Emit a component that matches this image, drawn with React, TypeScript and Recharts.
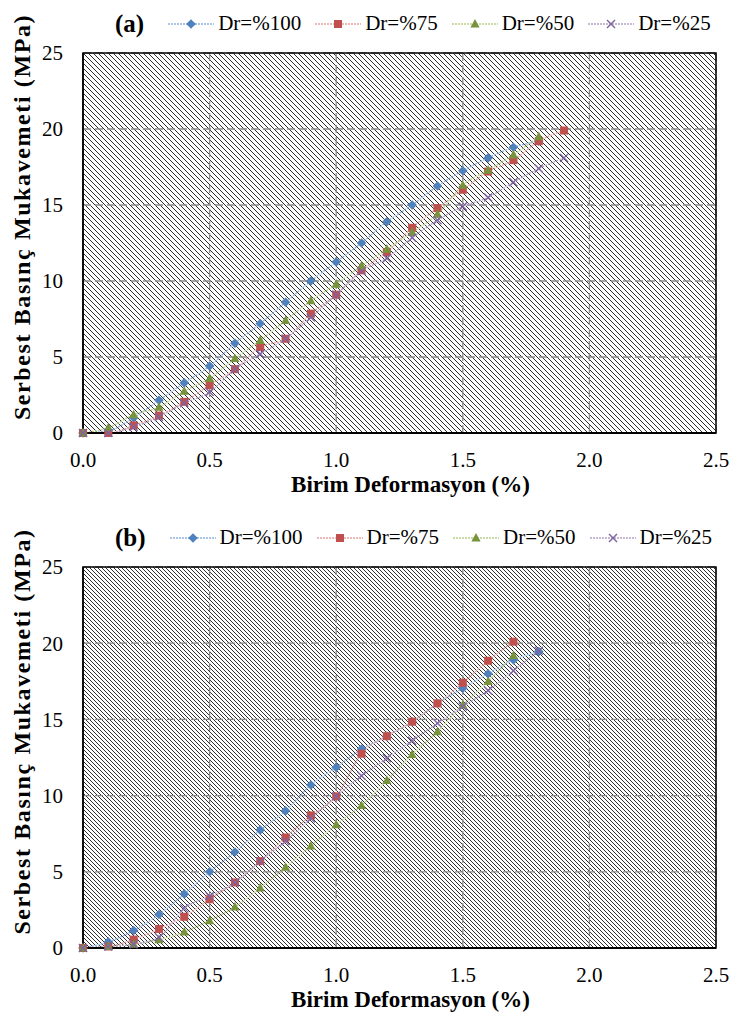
import React from "react"
import { LineChart, Line, XAxis, YAxis, CartesianGrid, Legend, ReferenceArea } from "recharts"

// strain (%) values for each panel
const strainA = [0, 0.1, 0.2, 0.3, 0.4, 0.5, 0.6, 0.7, 0.8, 0.9, 1.0, 1.1, 1.2, 1.3, 1.4, 1.5, 1.6, 1.7, 1.8, 1.9]
const strainB = [0, 0.1, 0.2, 0.3, 0.4, 0.5, 0.6, 0.7, 0.8, 0.9, 1.0, 1.1, 1.2, 1.3, 1.4, 1.5, 1.6, 1.7, 1.8]

// panel (a) - unconfined compressive strength (MPa)
const a100 = [0, 0.15, 1.0, 2.15, 3.3, 4.4, 5.9, 7.2, 8.6, 10.0, 11.25, 12.5, 13.9, 15.0, 16.25, 17.25, 18.1, 18.8, 19.2]
const a75 = [0, 0, 0.5, 1.15, 2.05, 3.15, 4.2, 5.65, 6.2, 7.85, 9.1, 10.7, 11.9, 13.5, 14.8, 16.0, 17.2, 17.95, 19.2, 19.9]
const a50 = [0, 0.35, 1.2, 1.7, 2.75, 3.6, 4.9, 6.1, 7.4, 8.7, 9.8, 11.0, 12.1, 13.2, 14.4, 16.3, 17.3, 18.3, 19.5]
const a25 = [0, 0, 0.4, 1.05, 1.95, 2.7, 4.2, 5.2, 6.2, 7.6, 9.1, 10.65, 11.5, 12.85, 14.0, 14.9, 15.5, 16.5, 17.4, 18.1]

// panel (b)
const b100 = [0, 0.4, 1.15, 2.2, 3.55, 5.0, 6.3, 7.75, 9.0, 10.7, 11.85, 13.05, 13.9, 14.85, 16.05, 17.05, 18.0, 18.9, 19.45]
const b75 = [0, 0.1, 0.55, 1.25, 2.05, 3.2, 4.3, 5.7, 7.25, 8.7, 9.95, 12.75, 13.9, 14.85, 16.05, 17.4, 18.85, 20.1]
const b50 = [0, 0.1, 0.25, 0.55, 1.05, 1.8, 2.7, 3.95, 5.3, 6.7, 8.1, 9.35, 11.0, 12.7, 14.2, 15.95, 17.5, 19.2]
const b25 = [0, 0.1, 0.25, 0.7, 2.6, 3.4, 4.3, 5.7, 7.0, 8.5, 9.95, 11.3, 12.45, 13.6, 14.75, 15.85, 16.9, 18.2, 19.5]

const xTicks = [0, 0.5, 1.0, 1.5, 2.0, 2.5]
const yTicks = [0, 5, 10, 15, 20, 25]

const seriesNames = ["Dr=%100", "Dr=%75", "Dr=%50", "Dr=%25"]

const SERIES = [
  { key: "d100", marker: "diamond", color: "#4F81BD", line: "#8DB3E2" },
  { key: "d75", marker: "square", color: "#C0504D", line: "#E6A3A1" },
  { key: "d50", marker: "triangle", color: "#77933C", line: "#B9D08B" },
  { key: "d25", marker: "cross", color: "#8064A2", line: "#B3A2C7" },
]

const FONT = "Liberation Serif, Times New Roman, Times, DejaVu Serif, serif"

function buildRows(strain: number[], cols: number[][]) {
  return strain.map((s, i) => ({
    strain: s,
    d100: cols[0][i],
    d75: cols[1][i],
    d50: cols[2][i],
    d25: cols[3][i],
  }))
}

function MarkerShape({ cx, cy, kind, color }: any) {
  if (cx == null || cy == null || isNaN(cx) || isNaN(cy)) return null
  if (kind === "diamond") {
    return <polygon points={`${cx},${cy - 4.8} ${cx + 4.8},${cy} ${cx},${cy + 4.8} ${cx - 4.8},${cy}`} fill={color} />
  }
  if (kind === "square") {
    return <rect x={cx - 4} y={cy - 4} width={8} height={8} fill={color} />
  }
  if (kind === "triangle") {
    return <polygon points={`${cx},${cy - 5} ${cx + 4.6},${cy + 3.6} ${cx - 4.6},${cy + 3.6}`} fill={color} />
  }
  return (
    <g stroke={color} strokeWidth={1.4}>
      <line x1={cx - 4} y1={cy - 4} x2={cx + 4} y2={cy + 4} />
      <line x1={cx - 4} y1={cy + 4} x2={cx + 4} y2={cy - 4} />
    </g>
  )
}

function makeLegend(tag: string) {
  return () => (
    <div
      style={{
        height: 45,
        display: "flex",
        alignItems: "center",
        paddingLeft: 115,
        paddingBottom: 14,
        fontFamily: FONT,
        fontSize: 21,
        color: "#000",
        boxSizing: "border-box",
      }}
    >
      <span style={{ fontWeight: "bold", fontSize: 25, marginRight: 24 }}>{tag}</span>
      {SERIES.map((s, i) => (
        <span key={s.key} style={{ display: "flex", alignItems: "center", marginRight: 14 }}>
          <svg width={46} height={14} style={{ marginRight: 4 }}>
            <line x1={0} y1={7} x2={46} y2={7} stroke={s.line} strokeWidth={1.3} strokeDasharray="2 1" />
            <MarkerShape cx={23} cy={7} kind={s.marker} color={s.color} />
          </svg>
          <span>{seriesNames[i]}</span>
        </span>
      ))}
    </div>
  )
}

function Panel({ tag, rows, height, bottom, pid, step }: any) {
  return (
    <LineChart
      width={733}
      height={height}
      data={rows}
      margin={{ top: 8, right: 17, left: 23, bottom: bottom }}
      style={{ fontFamily: FONT }}
    >
      <defs>
        <pattern id={pid} width={step} height={step} patternUnits="userSpaceOnUse">
          <rect width={step} height={step} fill="#ffffff" />
          <path
            d={`M0,0 L${step},${step} M-1,${step - 1} L1,${step + 1} M${step - 1},-1 L${step + 1},1`}
            stroke="#2e2e2e"
            strokeWidth={1}
          />
        </pattern>
      </defs>
      <CartesianGrid
        fill={`url(#${pid})`}
        stroke="#8a8a8a"
        strokeWidth={1.3}
        strokeDasharray="8 4"
        verticalValues={xTicks}
        horizontalValues={yTicks}
      />
      <XAxis
        dataKey="strain"
        type="number"
        domain={[0, 2.5]}
        ticks={xTicks}
        tickFormatter={(v) => Number(v).toFixed(1)}
        tickLine={false}
        tickMargin={13}
        axisLine={{ stroke: "#000", strokeWidth: 2 }}
        tick={{ fontFamily: FONT, fontSize: 21, fill: "#000" }}
        height={30}
        label={({ viewBox }: any) => (
          <text
            x={viewBox.x + viewBox.width / 2 + 11}
            y={viewBox.y + 51}
            textAnchor="middle"
            dominantBaseline="central"
            fontFamily={FONT}
            fontSize={23}
            fontWeight="bold"
            fill="#000"
          >
            Birim Deformasyon (%)
          </text>
        )}
      />
      <YAxis
        type="number"
        domain={[0, 25]}
        ticks={yTicks}
        tickLine={false}
        tickMargin={14}
        width={60}
        axisLine={{ stroke: "#000", strokeWidth: 1.5 }}
        tick={{ fontFamily: FONT, fontSize: 21, fill: "#000" }}
        label={({ viewBox }: any) => {
          const cy = viewBox.y + viewBox.height / 2 - 26
          return (
            <text
              x={22}
              y={cy}
              transform={`rotate(-90, 22, ${cy})`}
              textAnchor="middle"
              dominantBaseline="central"
              fontFamily={FONT}
              fontSize={24}
              fontWeight="bold"
              letterSpacing={1.6}
              fill="#000"
            >
              Serbest Basınç Mukavemeti (MPa)
            </text>
          )
        }}
      />
      <ReferenceArea x1={0} x2={2.5} y1={0} y2={25} fill="none" stroke="#000" strokeWidth={1.5} />
      <Legend
        verticalAlign="top"
        align="left"
        content={makeLegend(tag)}
        wrapperStyle={{ left: 0, top: 8, width: 733 }}
      />
      {SERIES.map((s, i) => (
        <Line
          key={s.key}
          dataKey={s.key}
          name={seriesNames[i]}
          type="monotone"
          stroke={s.line}
          strokeWidth={1.3}
          strokeDasharray="2 1"
          isAnimationActive={false}
          dot={(p: any) => <MarkerShape key={`${s.key}-${p.index}`} cx={p.cx} cy={p.cy} kind={s.marker} color={s.color} />}
          activeDot={false}
        />
      ))}
    </LineChart>
  )
}

export default function App() {
  const rowsA = buildRows(strainA, [a100, a75, a50, a25])
  const rowsB = buildRows(strainB, [b100, b75, b50, b25])
  return (
    <div style={{ position: "absolute", left: 0, top: 0, width: 733, height: 1014, background: "#fff", fontFamily: FONT }}>
      <Panel tag="(a)" rows={rowsA} height={514} bottom={51} pid="hatchA" step={5} />
      <Panel tag="(b)" rows={rowsB} height={500} bottom={36} pid="hatchB" step={4} />
    </div>
  )
}
